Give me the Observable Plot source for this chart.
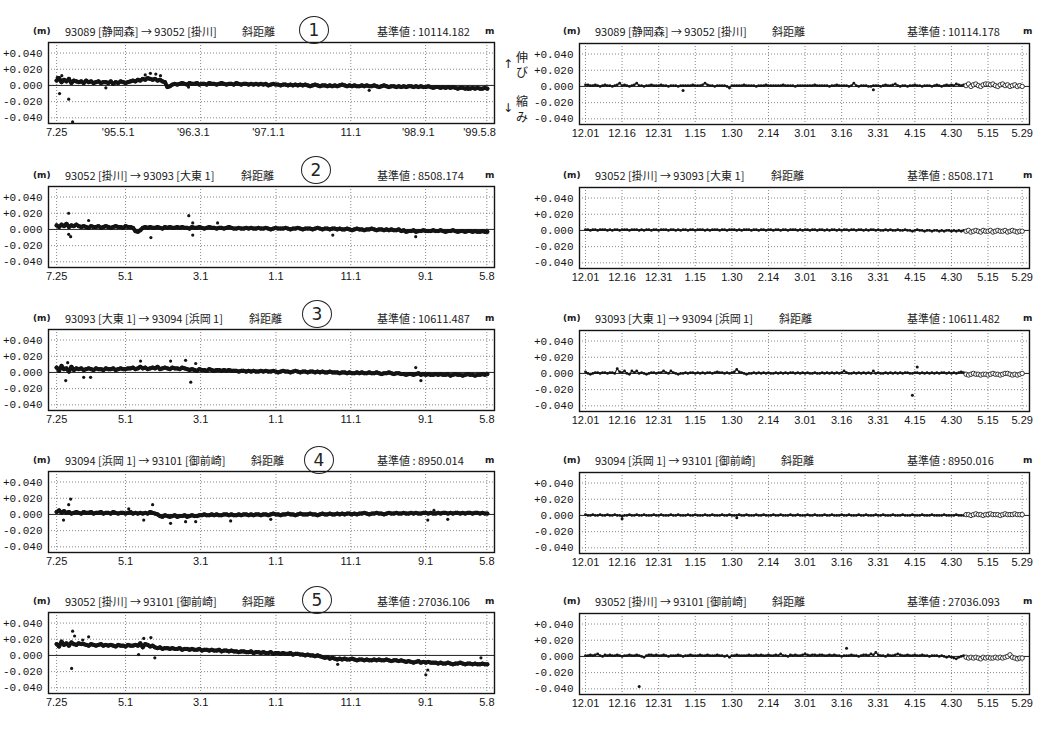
<!DOCTYPE html>
<html><head><meta charset="utf-8">
<script src="https://cdn.jsdelivr.net/npm/d3@7"></script>
<script src="https://cdn.jsdelivr.net/npm/@observablehq/plot@0.6"></script>
<style>
html,body{margin:0;padding:0;background:#fff;}
body{width:1059px;height:735px;position:relative;overflow:hidden;font-family:"Noto Sans CJK JP",sans-serif;color:#1a1a1a;}
.t{position:absolute;white-space:nowrap;font-size:11px;line-height:16px;}
.u{position:absolute;white-space:nowrap;font:bold 9px/16px "DejaVu Sans",sans-serif;}
.circ{position:absolute;width:28px;height:26px;border:1.2px solid #222;border-radius:50%;text-align:center;font:17px/26px "DejaVu Sans",sans-serif;color:#222;}
.ann{position:absolute;font-size:12px;line-height:14px;}
.arr{position:absolute;font:12px/14px "DejaVu Sans",sans-serif;}
svg{position:absolute;}
</style></head><body>
<script>
// ---------- data (values in mm, relative to the reference length) ----------
const leftStart = "1994-07-25";      // first reading of the long series
const leftStepDays = 10;              // spacing of the readings kept for the long series
const rightStart = "1998-12-01";      // first daily reading of the short series
const rightOpenFrom = 156;            // index from which readings are open circles

const titles = [
  "93089 [静岡森] → 93052 [掛川]",
  "93052 [掛川] → 93093 [大東 1]",
  "93093 [大東 1] → 93094 [浜岡 1]",
  "93094 [浜岡 1] → 93101 [御前崎]",
  "93052 [掛川] → 93101 [御前崎]"
];
const leftBase  = ["10114.182","8508.174","10611.487","8950.014","27036.106"];
const rightBase = ["10114.178","8508.171","10611.482","8950.016","27036.093"];
const circled = ["1","2","3","4","5"];

const yTickValues = [0.04, 0.02, 0, -0.02, -0.04];
const yTickLabels = ["+0.040","+0.020","0.000","-0.020","-0.040"];

const leftTickDates  = ["1994-07-25","1995-05-01","1996-03-01","1997-01-01","1997-11-01","1998-09-01","1999-05-08"];
const leftTickLabels1 = ["7.25","'95.5.1","'96.3.1","'97.1.1","11.1","'98.9.1","'99.5.8"];
const leftTickLabels = ["7.25","5.1","3.1","1.1","11.1","9.1","5.8"];
const rightTickDates = ["1998-12-01","1998-12-16","1998-12-31","1999-01-15","1999-01-30","1999-02-14","1999-03-01","1999-03-16","1999-03-31","1999-04-15","1999-04-30","1999-05-15","1999-05-29"];
const rightTickLabels = ["12.01","12.16","12.31","1.15","1.30","2.14","3.01","3.16","3.31","4.15","4.30","5.15","5.29"];

// long series, one value every leftStepDays (mm)
const left1 = [6,9,4,7,5,8,3,6,5,4, 5,3,6,4,5,3,4,5,3,4, 4,3,5,2,4,3,5,4,3,4, 5,6,5,7,6,8,7,9,8,7, 8,6,7,5,4, -2,-1,1,2,1,
  2,3,2,1,3,2,2,3,1,2, 2,1,3,2,2,1,2,3,2,1, 2,2,1,3,2,1,2,2,1,2, 1,2,1,2,1,2,0,1,2,1, 1,0,1,1,0,1,0,1,0,1,
  0,1,0,-1,0,1,0,-1,0,0, -1,0,-1,0,-1,0,1,0,-1,0, -1,0,-1,-1,0,-1,0,-1,-1,0, -1,-2,-1,0,-1,-2,-1,-1,-2,-1,
  -2,-1,-2,-1,-1,-2,-1,-2,-1,-2, -2,-1,-2,-3,-2,-2,-3,-2,-3,-2, -3,-2,-3,-4,-3,-3,-4,-3,-4,-3, -4,-3,-4,-4,-3,-4];
const left2 = [5,3,6,4,7,3,5,4,6, 4,3,4,3,2,4,3,3,4,2,3,4,3,2,3,4,3,3,2,4,3,3,2, -2,-3,-1,
  2,3,2,3,2,2,3,2,1,3,2,3,2,2,3,2,3,2,2,1,3,2,2,3,2,1,2,3,2,2,1,2,2,1,2,3,2,1,
  1,2,1,1,2,1,2,1,1,2,1,1,2,1,0,1,2,1,1,1,2,1,0,1,1,2,1,0,1,1,1,0,1,2,1,0,1,1,0,1,1,
  0,1,0,0,1,0,-1,0,1,0,0,-1,0,0,1,0,-1,0,0,-1,0,-1,0,-1,-1,0,
  -2,-1,-3,-2,-2,-1,-3,-2,-2,-1,-2,-2,
  -2,-1,-2,-2,-1,-2,-3,-2,-2,-1,-2,-3,-2,-2,-3,-2,-2,-3,-2,-3,-3,-2,-3,-3];
const left3 = [6,2,8,4,5,1,7,3,5, 4,5,3,4,5,4,3,5,4,4,3,5,4,4,5,3,4,5,4,4,5,
  5,6,4,5,7,5,6,4,5,6,5,7,4,5,6,5,4,6,5,5,4,6,5,4,
  3,4,3,2,4,3,3,2,4,3,2,3,3,2,3,2,3,2,2,
  2,1,2,2,1,2,1,2,1,1,2,1,2,1,1,2,1,0,1,2,1,1,0,1,2,1,0,1,1,0,1,1,0,1,0,1,0,0,1,0,0,
  0,-1,0,0,-1,0,-1,-1,0,-1,0,-1,-1,0,-1,-1,0,-1,-2,-1,-1,0,-1,-2,-1,-1,-2,
  -2,-3,-2,-2,-3,-2,-1,-3,-2,-3,-2,-3,-3,-2,-3,-2,-3,-3,-2,-4,-3,-2,-3,-3,-4,-3,-2,-3,-3,-4,-3,-3,-2,-3,-2];
const left4 = [3,5,2,4,
  2,3,1,2,3,2,1,3,2,2,3,1,2,2,3,1,2,2,1,3,2,1,2,2,1,2,3,1,2,1,2,1,
  2,1,3,2,1,0,
  -2,-3,-1,-2,-3,-2,-1,-3,-2,-2,-1,-3,-2,-1,-2,-2,-1,
  -1,0,-1,-1,0,-1,0,-1,-1,0,0,-1,0,-1,-1,0,-1,0,0,-1,0,-1,0,0,-1,0,0,-1,0,1,0,0,-1,0,0,1,0,0,-1,0,1,0,0,0,1,0,0,-1,0,1,0,0,1,0,0,
  1,0,1,0,1,1,0,1,0,1,1,2,1,0,1,1,2,1,1,0,1,2,1,1,2,1,1,2,1,1,2,1,2,1,1,2,2,1,2,1,1,2,1,2,2,1,2,1,2,2,1,2,1,2,2,1,2,2,1,2,1,1];
const left5 = [14,11,17,13,15,12,16,14,13,15,14,
  14,13,12,14,13,12,13,14,12,13,12,13,12,11,13,12,12,11,13,12,12,
  13,12,15,10,14,13,11,12,10,
  9,10,8,9,9,8,9,8,8,9,7,8,8,7,8,7,7,8,6,7,7,6,7,6,6,7,5,6,6,5,6,5,
  5,4,5,5,4,4,5,3,4,4,3,4,3,3,4,2,3,3,2,3,2,2,3,1,2,2,1,
  1,0,1,0,0,-1,0,-1,
  -2,-3,-2,-4,-3,-4,-5,-4,-5,-4,-5,-5,-4,
  -5,-6,-5,-5,-6,-5,-6,-6,-5,-6,-5,-6,-6,-5,-6,-7,-6,-6,-7,-6,
  -7,-8,-7,-8,-9,-8,-7,-9,-8,-9,-8,-9,-9,
  -9,-10,-9,-10,-10,-9,-10,-11,-10,-10,-9,-10,-11,-10,-10,-11,-10,-11,-11,-10,-11,-11];

// isolated readings of the long series [date, mm]
const leftOut1 = [["1994-07-28",10],["1994-08-06",-10],["1994-08-15",12],["1994-09-12",-17],["1994-09-28",-45],["1995-02-10",-3],["1995-07-20",13],["1995-08-10",15],["1995-09-01",14],["1995-09-20",12],["1996-01-12",-2],["1998-01-15",-6],["1999-02-20",-5]];
const leftOut2 = [["1994-09-12",20],["1994-09-20",-9],["1994-09-12",-6],["1994-12-02",11],["1995-08-12",-10],["1996-01-13",17],["1996-01-29",8],["1996-01-29",-7],["1996-05-09",8],["1997-08-20",-7],["1998-07-23",-9]];
const leftOut3 = [["1994-08-31",-10],["1994-09-08",12],["1994-11-12",-6],["1994-12-10",-6],["1995-07-01",14],["1995-10-31",14],["1995-12-31",15],["1996-02-10",11],["1996-01-21",-12],["1998-07-23",6],["1998-08-13",-10]];
const leftOut4 = [["1994-09-20",19],["1994-09-12",12],["1994-08-22",-7],["1995-05-14",7],["1995-07-14",-7],["1995-08-19",12],["1995-10-31",-11],["1995-12-31",-9],["1996-02-10",-9],["1996-07-01",-8],["1996-12-11",-6],["1998-09-10",-7],["1998-11-30",-6],["1998-10-05",5]];
const leftOut5 = [["1994-09-28",30],["1994-10-06",24],["1994-11-08",19],["1994-12-02",23],["1994-09-24",-16],["1995-07-14",21],["1995-08-12",22],["1995-06-23",1],["1995-08-28",-3],["1997-09-09",-11],["1998-09-02",-24],["1998-09-10",-18],["1999-04-14",-3]];

// short series, daily (mm)
const right1 = [2,2,1,1,2,1,0,1,2,1, 1,0,1,2,4,1,2,1,0,1, 2,4,1,1,0,1,1,2,1,1, 1,2,1,1,0,1,1,1,0,1, 1,1,1,1,2,1,1,1,2,4,
  2,1,1,0,1,1,1,1,0,-2, 1,1,1,1,1,2,1,1,1,1, 0,1,1,1,2,1,1,1,1,1, 1,2,1,1,1,1,0,1,1,1, 1,1,1,1,2,1,1,1,1,1,
  0,1,1,2,1,1,1,1,0,1, 4,1,0,1,1,1,0,0,1,1, 1,0,1,2,1,1,2,3,1,0, 1,1,0,1,1,2,1,1,0,1, 1,1,0,1,2,1,0,1,2,1, 2,1,3,2,1,2,
  1,3,0,2,3,1,0,2,3,3,2,3,1,0,2,3,1,2,0,1,2,0,1,0];
const right2 = [1,1,0,1,1,0,1,1,1,0, 1,0,1,1,0,1,1,1,0,1, 1,1,0,1,0,1,1,0,1,1, 0,1,1,1,0,1,1,0,1,0, 1,1,0,1,1,0,1,1,1,0,
  1,0,1,1,1,0,1,1,0,1, 1,1,0,1,0,1,1,1,0,1, 1,0,1,1,0,1,1,0,1,1, 0,1,1,0,1,1,1,0,1,0, 1,1,0,1,1,0,1,1,0,1,
  0,1,1,0,1,0,1,1,0,1, 1,0,1,1,0,1,0,1,1,0, 1,0,0,1,0,1,0,0,1,0, 0,1,0,0,-1,0,1,0,0,-1, 0,0,-1,0,0,-1,0,-1,0,0, -1,0,-1,0,-1,0,
  -1,0,-2,-1,0,-1,-2,0,-1,-1,0,-2,-1,0,-1,-1,0,-2,-1,0,-1,-2,-1,-1];
const right3 = [2,0,-1,0,1,1,0,1,1,0, 1,1,0,6,2,1,3,0,-1,3, 1,3,0,1,0,-1,0,1,1,0, 1,1,3,1,0,3,1,0,-1,0, 0,1,0,1,1,0,1,0,1,0,
  1,1,0,1,2,1,1,0,1,0, 1,2,5,2,1,0,-1,0,0,1, 0,1,0,1,0,1,0,0,1,0, 1,0,1,0,1,1,0,1,0,1, 0,1,0,0,1,0,0,1,0,1,
  0,1,0,1,0,1,3,1,0,0, 1,0,1,0,1,0,1,0,3,0, 1,0,0,1,0,1,0,1,0,1, 0,1,1,0,0,1,1,0,1,0, 1,0,1,0,1,0,1,1,0,1, 0,1,0,1,2,1,
  -1,-2,-1,0,-1,-1,-2,-1,-1,-2,-1,0,-1,-1,-2,-1,0,0,-1,-2,-1,-2,-1,0];
const right4 = [1,0,0,1,0,0,1,0,0,1, 0,0,1,0,0,-1,0,0,1,0, 0,1,0,0,1,0,0,0,1,0, 0,1,0,0,0,1,0,0,1,0, 0,0,1,0,0,1,0,0,0,1,
  0,0,1,0,0,0,1,0,0,1, 0,0,0,1,0,0,1,0,0,0, 1,0,0,1,0,0,0,1,0,0, 1,0,0,0,1,0,0,1,0,0, 0,1,0,0,1,0,0,0,1,0,
  0,1,0,0,0,1,0,0,1,0, 0,0,1,0,0,1,0,0,0,1, 0,0,1,0,0,0,1,0,0,0, 1,0,0,0,1,0,0,0,1,0, 0,0,1,0,0,0,0,1,0,0, 0,0,1,0,0,0,
  1,1,0,1,2,1,1,0,1,1,2,1,1,1,0,1,2,1,1,1,2,1,1,1];
const right5 = [1,1,2,1,2,3,1,0,2,1, 2,1,1,2,1,0,1,1,2,1, 1,2,1,0,-1,1,2,2,1,2, 1,1,2,1,0,1,1,1,2,1, 0,1,1,2,1,1,1,2,1,1,
  2,1,1,1,2,1,1,0,1,-1, 1,1,2,1,1,1,1,2,1,1, 2,1,2,1,1,2,1,1,2,1, 3,1,1,0,2,1,2,1,1,2, 3,2,1,2,2,1,2,2,1,1,
  2,1,2,1,1,0,1,1,1,2, 1,1,0,1,2,2,1,3,2,5, 2,1,1,0,2,1,1,2,3,2, 1,1,2,1,1,2,1,1,2,1, 1,0,1,1,1,0,1,0,-1,0, -1,-2,-3,-1,0,1,
  -1,-2,-1,-2,-1,-2,-3,-1,-2,-1,-2,-2,-1,-2,-1,-2,-1,0,2,-1,-2,-3,-2,-2];
const rightOut1 = [["1999-01-10",-5],["1999-03-29",-4]];
const rightOut2 = [];
const rightOut3 = [["1999-04-14",-27],["1999-04-16",8]];
const rightOut4 = [["1998-12-16",-4],["1999-02-01",-3]];
const rightOut5 = [["1998-12-23",-37],["1999-03-18",10]];

const leftVals = [left1,left2,left3,left4,left5];
const leftOuts = [leftOut1,leftOut2,leftOut3,leftOut4,leftOut5];
const rightVals = [right1,right2,right3,right4,right5];
const rightOuts = [rightOut1,rightOut2,rightOut3,rightOut4,rightOut5];

// ---------- layout ----------
const panelY = [31,175,318,460,601];      // centre line of each title row
const distX = [242,241,249,251,242];      // where 斜距離 starts
const circleXY = [[313,29],[315,169],[316,313],[318,459],[316,599]];
const INK = "#141414";
const day = s => new Date(s + "T00:00:00Z");
const yLab = d => yTickLabels[yTickValues.indexOf(d)];

function txt(cls, s, x, y) {
  const el = document.createElement("div");
  el.className = cls; el.textContent = s;
  el.style.left = x + "px"; el.style.top = y + "px";
  document.body.appendChild(el); return el;
}

function basePlot(o) {
  const svg = Plot.plot({
    width: o.width, height: 106,
    marginLeft: o.ml, marginRight: o.mr, marginTop: 3, marginBottom: 22,
    x: {type: "utc", domain: o.xDomain, label: null},
    y: {domain: [-0.047, 0.053], label: null},
    style: {background: "transparent", color: INK, fontFamily: "'Liberation Sans Narrow','Liberation Sans',sans-serif", fontSize: "11px", overflow: "visible"},
    marks: o.marks
  });
  svg.style.left = o.left + "px";
  svg.style.top = o.top + "px";
  document.body.appendChild(svg);
}

const gridMarks = (ticks) => [
  Plot.ruleX(ticks, {stroke: "#6a6a6a", strokeWidth: 0.8, strokeDasharray: "1,2"}),
  Plot.ruleY(yTickValues.filter(v => v !== 0), {stroke: "#6a6a6a", strokeWidth: 0.8, strokeDasharray: "1,2"}),
  Plot.ruleY([0], {stroke: "#222", strokeWidth: 1})
];
const yAxis = () => Plot.axisY(yTickValues, {label: null, tickSize: 0, tickPadding: 6, tickFormat: yLab, fontFamily: "'Liberation Mono','DejaVu Sans Mono',monospace", fontSize: 11});

for (let p = 0; p < 5; p++) {
  const T = panelY[p];
  // ---- left (long series) ----
  const lt = leftTickDates.map(day);
  const series = leftVals[p].map((v, i) => ({date: d3.utcDay.offset(day(leftStart), i * leftStepDays), value: v / 1000}));
  const outs = leftOuts[p].map(([d, v]) => ({date: day(d), value: v / 1000}));
  let xAxes;
  if (p === 0) {
    const plain = [0, 4], yr = [1, 2, 3, 5, 6];
    xAxes = [
      Plot.axisX(plain.map(i => lt[i]), {label: null, tickSize: 0, tickPadding: 5, tickFormat: d => leftTickLabels1[lt.findIndex(t => +t === +d)]}),
      Plot.axisX(yr.map(i => lt[i]), {label: null, tickSize: 0, tickPadding: 5, textAnchor: "end", dx: 9, tickFormat: d => leftTickLabels1[lt.findIndex(t => +t === +d)]})
    ];
  } else {
    xAxes = [Plot.axisX(lt, {label: null, tickSize: 0, tickPadding: 5, tickFormat: d => leftTickLabels[lt.findIndex(t => +t === +d)]})];
  }
  basePlot({
    width: 530, ml: 48, mr: 36, left: 0, top: T + 8,
    xDomain: [day("1994-06-22"), day("1999-06-08")],
    marks: [
      ...gridMarks(lt),
      Plot.line(series, {x: "date", y: "value", stroke: INK, strokeWidth: 4}),
      Plot.dot(series, {x: "date", y: "value", r: 2.1, fill: INK}),
      Plot.dot(outs, {x: "date", y: "value", r: 1.6, fill: INK}),
      Plot.frame({stroke: INK, strokeWidth: 1.4}),
      yAxis(), ...xAxes
    ]
  });
  // ---- right (short series) ----
  const rt = rightTickDates.map(day);
  const rs = rightVals[p].map((v, i) => ({date: d3.utcDay.offset(day(rightStart), i), value: v / 1000, open: i >= rightOpenFrom}));
  const filled = rs.filter(d => !d.open), open = rs.filter(d => d.open);
  const routs = rightOuts[p].map(([d, v]) => ({date: day(d), value: v / 1000}));
  basePlot({
    width: 529, ml: 49, mr: 30, left: 530, top: T + 9,
    xDomain: [new Date("1998-11-28T13:00:00Z"), day("1999-06-01")],
    marks: [
      ...gridMarks(rt),
      Plot.line(filled, {x: "date", y: "value", stroke: "#222", strokeWidth: 1.2}),
      Plot.dot(filled, {x: "date", y: "value", r: 1.4, fill: INK}),
      Plot.dot(open, {x: "date", y: "value", r: 2.2, fill: "white", stroke: "#222", strokeWidth: 0.9}),
      Plot.dot(routs, {x: "date", y: "value", r: 1.5, fill: INK}),
      Plot.frame({stroke: INK, strokeWidth: 1.4}),
      yAxis(),
      Plot.axisX(rt, {label: null, tickSize: 0, tickPadding: 5, tickFormat: d => rightTickLabels[rt.findIndex(t => +t === +d)]})
    ]
  });

  // ---- title rows ----
  for (const [cx, base, mx] of [[0, leftBase[p], 485], [530, rightBase[p], 493]]) {
    txt("u", "(m)", cx + 33, T - 8);
    txt("t", titles[p], cx + 65, T - 8);
    txt("t", "斜距離", cx + distX[p], T - 8);
    txt("t", "基準値 :  " + base, cx + 377, T - 8);
    txt("u", "m", cx + mx, T - 8);
  }
  txt("circ", circled[p], circleXY[p][0] - 14, circleXY[p][1] - 13);
}
// stretch / shrink note beside the first panel
txt("arr", "↑", 503, 57); txt("ann", "伸", 516, 50); txt("ann", "び", 516, 65);
txt("arr", "↓", 503, 101); txt("ann", "縮", 516, 94); txt("ann", "み", 516, 110);
</script>
</body></html>
